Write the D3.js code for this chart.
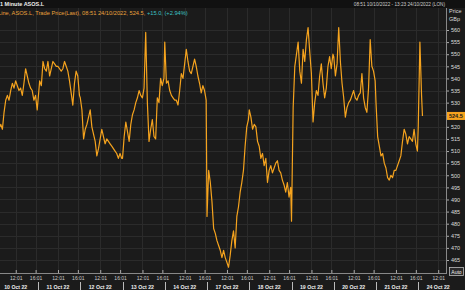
<!DOCTYPE html>
<html>
<head>
<meta charset="utf-8">
<script src="https://cdn.jsdelivr.net/npm/d3@7"></script>
<style>
    body { margin: 0; background: #1b1b1b; overflow: hidden; }
    svg { display: block; font-family: "Liberation Sans", Arial, sans-serif; }
</style>
</head>
<body>
<svg id="chart" width="465" height="290"></svg>
<script>

// DATA (ASOS.L, 1 minute chart, prices in GBp, read every 20 minutes)

var days = ["10 Oct 22", "11 Oct 22", "12 Oct 22", "13 Oct 22", "14 Oct 22",
            "17 Oct 22", "18 Oct 22", "19 Oct 22", "20 Oct 22", "21 Oct 22", "24 Oct 22"];

var firstTrade = ["08:51", 520];          // 10 Oct
var lastTrade = ["08:51", 524.5];         // 24 Oct

// 10 Oct starts at 09:00, all other days at 08:00, step 20 min
var oct10 = [521, 519, 526, 531, 533, 531, 535, 538, 536, 539, 537, 535, 536, 533, 538, 544, 541, 538, 536, 535, 531, 533, 527];
var oct11 = [531, 539, 537, 547, 544, 543, 547, 541, 544, 547, 546, 545, 545, 544, 543, 544, 547, 545, 543, 539, 534, 529, 538, 543, 541, 533];
var oct12 = [532, 527, 515, 519, 521, 524, 527, 520, 517, 514, 508, 511, 515, 519, 516, 513, 515, 514, 513, 512, 511, 510, 509, 507, 509, 507];
var oct13 = [507, 516, 522, 518, 514, 521, 525, 527, 530, 532, 535, 533, 532, 536, 559, 530, 514, 519, 523, 516, 515, 532, 530, 540, 537, 540];
var oct14 = [555, 538, 539, 535, 533, 532, 531, 531, 529, 535, 542, 540, 546, 552, 547, 543, 542, 545, 548, 545, 541, 538, 534, 537, 535, 531];
var oct17 = [483, 502, 497, 489, 478, 476, 473, 471, 469, 466, 469, 466, 464, 462, 467, 473, 477, 470, 483, 487, 493, 497, 502, 512, 520, 523];
var oct18 = [527, 524, 519, 521, 520, 514, 512, 507, 509, 504, 507, 497, 502, 504, 501, 503, 505, 506, 502, 501, 498, 496, 493, 497, 491, 495];
var oct19 = [481, 528, 545, 550, 555, 543, 538, 552, 547, 556, 561, 551, 542, 522, 530, 535, 533, 541, 546, 538, 532, 536, 545, 549, 544, 550];
var oct20 = [549, 541, 546, 561, 547, 538, 532, 524, 528, 530, 531, 533, 535, 532, 531, 533, 534, 542, 532, 528, 526, 536, 556, 545, 543, 539];
var oct21 = [530, 516, 512, 508, 509, 505, 503, 499, 498, 500, 499, 502, 502, 504, 506, 508, 514, 519, 517, 513, 516, 515, 514, 519, 513, 510];
var oct24 = [520, 555, 533];

var priceTicks = [465, 470, 475, 480, 485, 490, 495, 500, 505, 510, 515, 520, 525, 530, 535, 540, 545, 550, 555, 560];
var timeTickLabels = ["12:01", "16:01"];

var sessionMinutes = 510;   // 08:00 - 16:30
var step = 20;

// helpers
function toMin(t) {
    var p = t.split(":");
    return (+p[0] - 8) * 60 + (+p[1]);
}
var startOffset = toMin(firstTrade[0]);
function idx(day, t) { return day * sessionMinutes + toMin(t) - startOffset; }

// build the series
var series = [];
series.push({ t: idx(0, firstTrade[0]), v: firstTrade[1] });
oct10.forEach(function (v, i) { series.push({ t: idx(0, "09:00") + i * step, v: v }); });
[oct11, oct12, oct13, oct14, oct17, oct18, oct19, oct20, oct21, oct24].forEach(function (arr, d) {
    arr.forEach(function (v, i) { series.push({ t: idx(d + 1, "08:00") + i * step, v: v }); });
});
series.push({ t: idx(10, lastTrade[0]), v: lastTrade[1] });

var svg = d3.select("#chart");
var W = 465, H = 290;
var plot = { left: 0, right: 446, top: 8, bottom: 273 };

var x = d3.scaleLinear()
    .domain([0, idx(10, "13:23")])
    .range([0, 445]);

var y = d3.scaleLinear()
    .domain([465, 560])
    .range([260, 30]);

// backgrounds
svg.append("rect").attr("width", W).attr("height", H).attr("fill", "#1b1b1b");
svg.append("rect").attr("width", W).attr("height", plot.top).attr("fill", "#111");

// grid
var timeTicks = [];
days.forEach(function (d, i) {
    timeTicks.push(idx(i, "12:01"));
    if (i < days.length - 1) timeTicks.push(idx(i, "16:01"));
});

var grid = svg.append("g");
grid.selectAll(".vgrid")
    .data(timeTicks)
    .enter().append("line")
    .attr("x1", function (d) { return Math.round(x(d)) + 0.5; })
    .attr("x2", function (d) { return Math.round(x(d)) + 0.5; })
    .attr("y1", plot.top)
    .attr("y2", plot.bottom)
    .attr("stroke", "#2b2b2b");

grid.selectAll(".hgrid")
    .data(priceTicks)
    .enter().append("line")
    .attr("x1", 0)
    .attr("x2", plot.right)
    .attr("y1", function (d) { return Math.round(y(d)) + 0.5; })
    .attr("y2", function (d) { return Math.round(y(d)) + 0.5; })
    .attr("stroke", "#2b2b2b");

// price line
svg.append("clipPath").attr("id", "clip")
    .append("rect")
    .attr("x", 0).attr("y", plot.top)
    .attr("width", plot.right).attr("height", plot.bottom - plot.top);

var line = d3.line()
    .x(function (d) { return x(d.t); })
    .y(function (d) { return y(d.v); });

svg.append("path")
    .datum(series)
    .attr("clip-path", "url(#clip)")
    .attr("fill", "none")
    .attr("stroke", "#f5a31e")
    .attr("stroke-width", 1.2)
    .attr("stroke-linejoin", "round")
    .attr("d", line);

// right axis
var yAxis = svg.append("g")
    .attr("transform", "translate(" + plot.right + ",0)")
    .call(d3.axisRight(y).tickValues(priceTicks).tickSize(3).tickPadding(2).tickFormat(d3.format("d")));
yAxis.select(".domain").remove();
yAxis.selectAll("line").attr("stroke", "#aaa");
yAxis.selectAll("text").attr("fill", "#ddd").style("font-size", "5.5px");
// the last-price marker sits where the 525 label would be
yAxis.selectAll(".tick").filter(function (d) { return Math.abs(d - lastTrade[1]) < 2.5; })
    .select("text").remove();

svg.append("line")
    .attr("x1", plot.right + 0.5).attr("x2", plot.right + 0.5)
    .attr("y1", plot.top).attr("y2", plot.bottom)
    .attr("stroke", "#888");

// last price marker
var lastY = y(lastTrade[1]);
svg.append("rect")
    .attr("x", plot.right + 1).attr("y", lastY - 4)
    .attr("width", 18).attr("height", 8)
    .attr("fill", "#f5a31e");
svg.append("text")
    .attr("x", plot.right + 3).attr("y", lastY + 2)
    .attr("fill", "#1a1a1a")
    .style("font-size", "5.5px").style("font-weight", "bold")
    .text(d3.format(".1f")(lastTrade[1]));

// bottom axis
var xAxis = svg.append("g")
    .attr("transform", "translate(0," + plot.bottom + ")")
    .call(d3.axisBottom(x).tickValues(timeTicks).tickSize(-3).tickPadding(3)
        .tickFormat(function (d, i) { return timeTickLabels[i % 2]; }));
xAxis.select(".domain").remove();
xAxis.selectAll("line").attr("stroke", "#aaa");
xAxis.selectAll("text").attr("fill", "#ccc").style("font-size", "5px");

svg.append("line")
    .attr("x1", 0).attr("x2", plot.right + 1)
    .attr("y1", plot.bottom + 0.5).attr("y2", plot.bottom + 0.5)
    .attr("stroke", "#888");

// date row
svg.selectAll(".day")
    .data(days)
    .enter().append("text")
    .attr("x", function (d, i) { return x(idx(i, "12:01")); })
    .attr("y", 289)
    .attr("text-anchor", "middle")
    .attr("fill", "#eee")
    .style("font-size", "5.2px")
    .style("font-weight", "bold")
    .text(function (d) { return d; });

svg.selectAll(".sep")
    .data(days.slice(1))
    .enter().append("line")
    .attr("x1", function (d, i) { return Math.round(x(idx(i + 1, "08:00"))) + 0.5; })
    .attr("x2", function (d, i) { return Math.round(x(idx(i + 1, "08:00"))) + 0.5; })
    .attr("y1", 282).attr("y2", 290)
    .attr("stroke", "#bbb");

// Auto button
svg.append("rect")
    .attr("x", 449.5).attr("y", 267.5)
    .attr("width", 14).attr("height", 8)
    .attr("fill", "#2a2a2a").attr("stroke", "#bbb").attr("stroke-width", 0.8);
svg.append("text")
    .attr("x", 456.5).attr("y", 273.5)
    .attr("text-anchor", "middle")
    .attr("fill", "#eee")
    .style("font-size", "5px")
    .text("Auto");

// header
svg.append("text")
    .attr("x", 0).attr("y", 6)
    .attr("fill", "#eee")
    .style("font-size", "5.5px").style("font-weight", "bold")
    .text("1 Minute ASOS.L");

svg.append("text")
    .attr("x", 445).attr("y", 6)
    .attr("text-anchor", "end")
    .attr("fill", "#ccc")
    .style("font-size", "4.7px")
    .text("08:51 10/10/2022 - 13:23 24/10/2022 (LON)");

var legend = svg.append("text")
    .attr("x", -2).attr("y", 14.5)
    .style("font-size", "5.7px");
legend.append("tspan").attr("fill", "#e9a23b")
    .text("Line, ASOS.L, Trade Price(Last), " + lastTrade[0] + " 24/10/2022, " + lastTrade[1] + ", ");
legend.append("tspan").attr("fill", "#3cc3c3")
    .text("+15.0, (+2.94%)");

svg.append("text").attr("x", 449).attr("y", 13)
    .attr("fill", "#ddd").style("font-size", "5.5px").text("Price");
svg.append("text").attr("x", 449).attr("y", 20.5)
    .attr("fill", "#ddd").style("font-size", "5.5px").text("GBp");

</script>
</body>
</html>
